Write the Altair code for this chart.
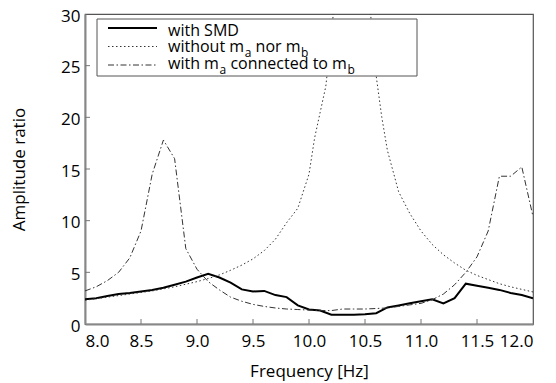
import altair as alt
import pandas as pd

freq = [8.0, 8.1, 8.2, 8.3, 8.4, 8.5, 8.6, 8.7, 8.8, 8.9, 9.0, 9.1, 9.2, 9.3, 9.4, 9.5, 9.6, 9.7, 9.8, 9.9,
        10.0, 10.1, 10.2, 10.3, 10.4, 10.5, 10.6, 10.7, 10.8, 10.9, 11.0, 11.1, 11.2, 11.3, 11.4, 11.5, 11.6,
        11.7, 11.8, 11.9, 12.0]

with_smd = [2.4, 2.5, 2.7, 2.9, 3.0, 3.15, 3.3, 3.5, 3.8, 4.1, 4.5, 4.85, 4.5, 4.0, 3.35, 3.15, 3.2, 2.8, 2.6, 1.8,
            1.4, 1.3, 0.9, 0.9, 0.9, 0.95, 1.05, 1.6, 1.8, 2.0, 2.2, 2.4, 2.0, 2.5, 3.9, 3.7, 3.5,
            3.3, 3.0, 2.8, 2.5]

freq_without = [8.0, 8.1, 8.2, 8.3, 8.4, 8.5, 8.6, 8.7, 8.8, 8.9, 9.0, 9.1, 9.2, 9.3, 9.4, 9.5, 9.6, 9.7, 9.8, 9.9,
                10.0, 10.05, 10.1, 10.15, 10.2, 10.25, 10.3, 10.4, 10.5, 10.55, 10.6, 10.65, 10.7, 10.8, 10.9,
                11.0, 11.1, 11.2, 11.3, 11.4, 11.5, 11.6, 11.7, 11.8, 11.9, 12.0]
without_mamb = [2.3, 2.45, 2.6, 2.75, 2.9, 3.05, 3.2, 3.4, 3.6, 3.85, 4.1, 4.4, 4.75, 5.2, 5.7, 6.3, 7.1, 8.2, 9.8, 11.2,
                14.5, 18.0, 20.5, 23.0, 28.0, 34.0, 40.0, 45.0, 37.0, 30.0, 24.0, 20.0, 16.8, 12.8, 10.7,
                9.0, 7.7, 6.7, 5.9, 5.2, 4.7, 4.3, 3.9, 3.6, 3.35, 3.1]

with_connected = [3.2, 3.6, 4.2, 5.0, 6.4, 9.0, 14.5, 17.8, 16.0, 7.3, 5.3, 4.1, 3.3, 2.6, 2.2, 1.9, 1.7, 1.55, 1.45, 1.4,
                  1.35, 1.3, 1.3, 1.45, 1.45, 1.45, 1.5, 1.55, 1.7, 1.85, 2.0, 2.35, 2.9, 3.8, 5.0, 6.5, 9.0,
                  14.3, 14.3, 15.2, 10.4]

x_ticks = [8.0, 8.5, 9.0, 9.5, 10.0, 10.5, 11.0, 11.5, 12.0]
y_ticks = [0, 5, 10, 15, 20, 25, 30]

FONT = "Open Sans"
FS = 17
LFS = 16
SUB = 12
W, H = 448, 310

# approximate Open Sans advance widths (units per em 2048) used to place subscripts
ADV = {"w": 1606, "i": 518, "t": 723, "h": 1257, "o": 1237, "u": 1257, " ": 532, "m": 1905,
       "n": 1257, "r": 836, "c": 975, "e": 1149, "d": 1255, "a": 1139, "b": 1255}


def width(s, size):
    return sum(ADV.get(ch, 1150) for ch in s) * size / 2048.0


xs = alt.Scale(domain=[8, 12], nice=False, zero=False)
ys = alt.Scale(domain=[0, 30], nice=False)

df1 = pd.DataFrame({"f": freq, "v": with_smd})
df2 = pd.DataFrame({"f": freq_without, "v": without_mamb})
df3 = pd.DataFrame({"f": freq, "v": with_connected})

xenc = alt.X("f:Q", scale=xs, axis=alt.Axis(values=x_ticks, format=".1f", title="Frequency [Hz]", ticks=False,
                                            labelPadding=9, titlePadding=14, grid=False))
yenc = alt.Y("v:Q", scale=ys, axis=alt.Axis(values=y_ticks, title="Amplitude ratio", ticks=False,
                                            labelPadding=5, labelOffset=2, titlePadding=32, grid=False))

l1 = alt.Chart(df1).mark_line(color="black", strokeWidth=2, clip=True).encode(x=xenc, y=yenc)
l2 = alt.Chart(df2).mark_line(color="#333333", strokeWidth=1, strokeDash=[1.5, 2.5], clip=True).encode(x="f:Q", y="v:Q")
l3 = alt.Chart(df3).mark_line(color="#333333", strokeWidth=1, strokeDash=[6, 2.5, 1.5, 2.5], clip=True).encode(x="f:Q", y="v:Q")

xt = alt.Chart(pd.DataFrame({"t": x_ticks[1:-1]})).mark_rule(color="#777777", strokeWidth=1).encode(
    x="t:Q", y=alt.value(H), y2=alt.value(H - 5))
yt = alt.Chart(pd.DataFrame({"t": y_ticks[1:-1]})).mark_rule(color="#777777", strokeWidth=1).encode(
    y="t:Q", x=alt.value(0), x2=alt.value(5))

one = pd.DataFrame({"k": [0]})
box = alt.Chart(one).mark_rect(fill="white", stroke="#555555", strokeWidth=1).encode(
    x=alt.value(12), x2=alt.value(332), y=alt.value(5), y2=alt.value(62))

sample1 = alt.Chart(one).mark_rule(color="black", strokeWidth=2).encode(
    x=alt.value(23), x2=alt.value(72), y=alt.value(14))
sample2 = alt.Chart(one).mark_rule(color="#333333", strokeWidth=1, strokeDash=[1.5, 2.5]).encode(
    x=alt.value(23), x2=alt.value(72), y=alt.value(32.5))
sample3 = alt.Chart(one).mark_rule(color="#333333", strokeWidth=1, strokeDash=[6, 2.5, 1.5, 2.5]).encode(
    x=alt.value(23), x2=alt.value(72), y=alt.value(51))


def txt(s, x, y, size=LFS):
    return alt.Chart(one).mark_text(text=s, align="left", baseline="alphabetic", font=FONT, fontSize=size,
                                    color="black").encode(x=alt.value(x), y=alt.value(y))


def rich(parts, x0, y0):
    """parts: list of (text, is_subscript)"""
    out = []
    x = x0
    for s, sub in parts:
        if sub:
            out.append(txt(s, x + 0.5, y0 + 5, SUB))
            x += 0.5 + width(s, SUB)
        else:
            lead = len(s) - len(s.lstrip(" "))
            x += width(" " * lead, LFS)
            s = s.lstrip(" ")
            out.append(txt(s, x, y0))
            x += width(s, LFS)
    return out


TX = 83
leg_texts = (
    [txt("with SMD", TX, 22)]
    + rich([("without m", False), ("a", True), (" nor m", False), ("b", True)], TX, 38)
    + rich([("with m", False), ("a", True), (" connected to m", False), ("b", True)], TX, 55)
)

chart = alt.layer(l1, l2, l3, xt, yt, box, sample1, sample2, sample3, *leg_texts).properties(
    width=W, height=H,
    autosize=alt.AutoSizeParams(type="none"),
    padding={"left": 77, "top": 6, "right": 15, "bottom": 60},
).configure_view(stroke="#555555", strokeWidth=1.2).configure_axis(
    domainColor="#888888", domainWidth=2, labelFont=FONT, labelFontSize=FS, labelColor="black",
    titleFont=FONT, titleFontSize=FS, titleFontWeight="normal", titleColor="black"
)

chart.save("out.html", embed_options={"renderer": "svg", "actions": False})
